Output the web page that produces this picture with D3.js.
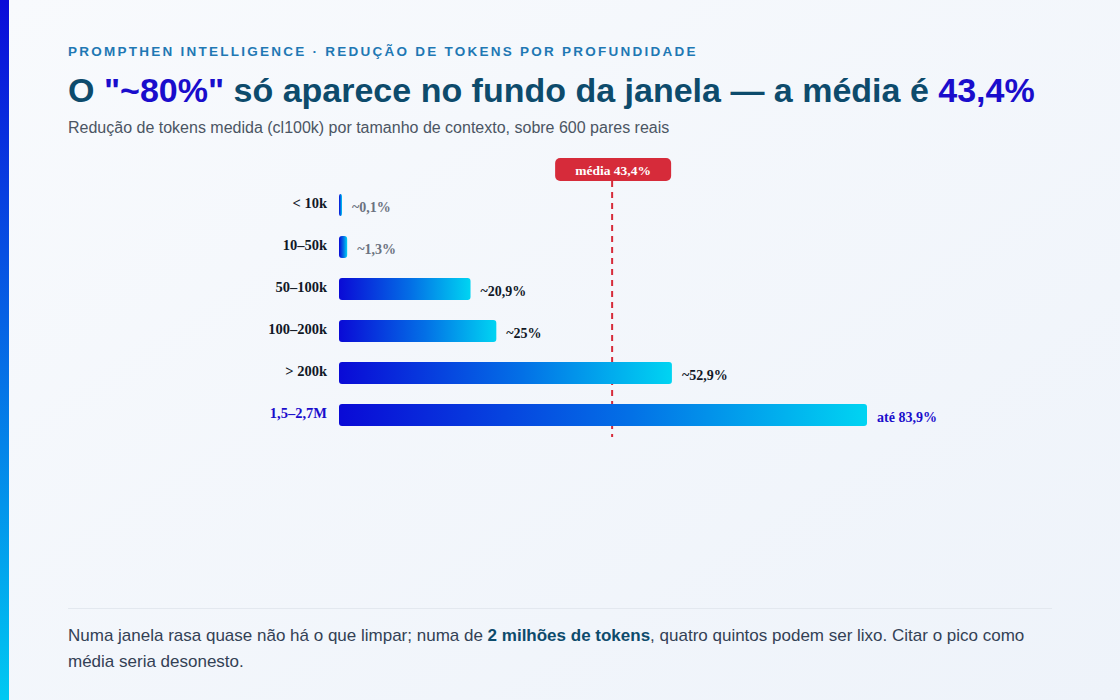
<!DOCTYPE html>
<html>
<head>
<meta charset="utf-8">
<script src="https://cdn.jsdelivr.net/npm/d3@7"></script>
<style>
  html, body { margin: 0; padding: 0; }
  body { width: 1120px; height: 700px; overflow: hidden; font-family: "Liberation Sans", Arial, sans-serif; }
</style>
</head>
<body>
<script>
// data
var categories = ["< 10k", "10–50k", "50–100k", "100–200k", "> 200k", "1,5–2,7M"]
var reductions = [0.1, 1.3, 20.9, 25, 52.9, 83.9]
var valueLabels = ["~0,1%", "~1,3%", "~20,9%", "~25%", "~52,9%", "até 83,9%"]
var meanValue = 43.4
var meanLabel = "média 43,4%"

var W = 1120, H = 700

var svg = d3.select('body').append('svg')
  .attr('width', W).attr('height', H)

var defs = svg.append('defs')
var bg = defs.append('linearGradient').attr('id', 'bg')
  .attr('x1', 0).attr('y1', 0).attr('x2', 1).attr('y2', 1)
bg.append('stop').attr('offset', '0%').attr('stop-color', '#f8fafd')
bg.append('stop').attr('offset', '100%').attr('stop-color', '#eef3fa')

var strip = defs.append('linearGradient').attr('id', 'strip')
  .attr('x1', 0).attr('y1', 0).attr('x2', 0).attr('y2', 1)
strip.append('stop').attr('offset', '0%').attr('stop-color', '#0b0bd9')
strip.append('stop').attr('offset', '100%').attr('stop-color', '#00c9f2')

var barGrad = defs.append('linearGradient').attr('id', 'bar')
  .attr('x1', 0).attr('y1', 0).attr('x2', 1).attr('y2', 0)
barGrad.append('stop').attr('offset', '0%').attr('stop-color', '#0a0ad6')
barGrad.append('stop').attr('offset', '55%').attr('stop-color', '#0370e6')
barGrad.append('stop').attr('offset', '100%').attr('stop-color', '#00d4f2')

svg.append('rect').attr('width', W).attr('height', H).attr('fill', 'url(#bg)')
svg.append('rect').attr('width', 9).attr('height', H).attr('fill', 'url(#strip)')

// header
svg.append('text')
  .attr('x', 68).attr('y', 56)
  .attr('font-size', 13.5).attr('font-weight', 700)
  .attr('letter-spacing', 2.25)
  .attr('fill', '#1f78b4')
  .text('PROMPTHEN INTELLIGENCE · REDUÇÃO DE TOKENS POR PROFUNDIDADE')

var title = svg.append('text')
  .attr('x', 68).attr('y', 102)
  .attr('font-size', 34).attr('font-weight', 700)
  .attr('fill', '#0d4b6c')
title.append('tspan').text('O ')
title.append('tspan').attr('fill', '#1a0dcc').text('"~80%"')
title.append('tspan').text(' só aparece no fundo da janela — a média é ')
title.append('tspan').attr('fill', '#1a0dcc').text('43,4%')

svg.append('text')
  .attr('x', 68).attr('y', 133)
  .attr('font-size', 16).attr('fill', '#4b5563')
  .text('Redução de tokens medida (cl100k) por tamanho de contexto, sobre 600 pares reais')

// chart
var x = d3.scaleLinear().domain([0, 83.9]).range([339, 867])
var y = d3.scaleBand().domain(categories).range([184, 436]).paddingInner(0.476).paddingOuter(0.238)

var serif = '"Liberation Serif", "Times New Roman", serif'
var g = svg.append('g')

// mean line
g.append('line')
  .attr('x1', x(meanValue)).attr('x2', x(meanValue))
  .attr('y1', 181).attr('y2', 437)
  .attr('stroke', '#d62b3a').attr('stroke-width', 2)
  .attr('stroke-dasharray', '6,5')

var rows = g.selectAll('.row').data(categories).enter()
  .append('g').attr('class', 'row')

rows.append('rect')
  .attr('x', x(0))
  .attr('y', function(d){ return y(d) })
  .attr('height', y.bandwidth())
  .attr('width', function(d, i){ return Math.max(3, x(reductions[i]) - x(0)) })
  .attr('rx', 3)
  .attr('fill', 'url(#bar)')

rows.append('text')
  .attr('x', 327)
  .attr('y', function(d){ return y(d) + y.bandwidth() / 2 + 3 })
  .attr('text-anchor', 'end')
  .attr('font-family', serif).attr('font-weight', 700).attr('font-size', 14.5)
  .attr('fill', function(d, i){ return i === categories.length - 1 ? '#1a0dcc' : '#111827' })
  .text(function(d){ return d })

rows.append('text')
  .attr('x', function(d, i){ return x(0) + Math.max(3, x(reductions[i]) - x(0)) + 10 })
  .attr('y', function(d){ return y(d) + y.bandwidth() / 2 + 7 })
  .attr('font-family', serif).attr('font-weight', 700).attr('font-size', 14)
  .attr('fill', function(d, i){
    if (i === categories.length - 1) return '#1a0dcc'
    if (reductions[i] < 5) return '#6b7280'
    return '#111827'
  })
  .text(function(d, i){ return valueLabels[i] })

// mean badge
var mx = x(meanValue)
g.append('rect')
  .attr('x', mx - 57).attr('y', 158)
  .attr('width', 116).attr('height', 23)
  .attr('rx', 5)
  .attr('fill', '#d62b3a')
g.append('text')
  .attr('x', mx + 1).attr('y', 175)
  .attr('text-anchor', 'middle')
  .attr('font-family', serif).attr('font-weight', 700).attr('font-size', 13.5)
  .attr('fill', '#fff')
  .text(meanLabel)

// footer
svg.append('line')
  .attr('x1', 68).attr('x2', 1052).attr('y1', 608.5).attr('y2', 608.5)
  .attr('stroke', '#e3e8ef')

var foot = svg.append('text')
  .attr('x', 68).attr('y', 641)
  .attr('font-size', 17).attr('fill', '#334155')
foot.append('tspan').text('Numa janela rasa quase não há o que limpar; numa de ')
foot.append('tspan').attr('font-weight', 700).attr('fill', '#0d4b6c').text('2 milhões de tokens')
foot.append('tspan').text(', quatro quintos podem ser lixo. Citar o pico como')
svg.append('text')
  .attr('x', 68).attr('y', 667)
  .attr('font-size', 17).attr('fill', '#334155')
  .text('média seria desonesto.')
</script>
</body>
</html>
